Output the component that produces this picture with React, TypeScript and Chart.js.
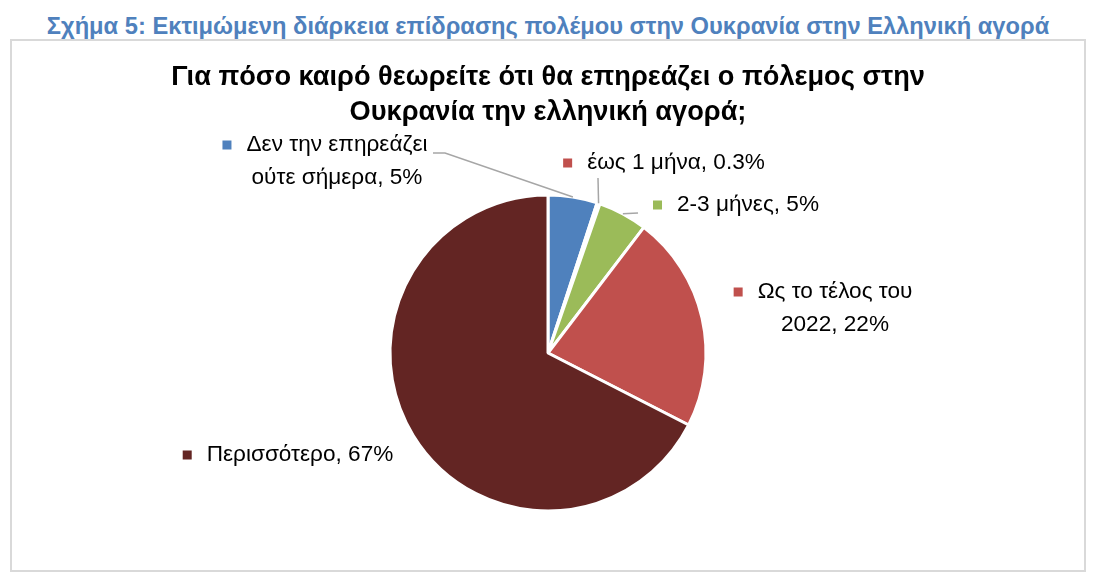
import React, { useEffect, useRef } from "react";
import { Chart, registerables } from "chart.js";

Chart.register(...registerables);

const PAGE_TITLE = "Σχήμα 5: Εκτιμώμενη διάρκεια επίδρασης πολέμου στην Ουκρανία στην Ελληνική αγορά";
const CHART_TITLE = ["Για πόσο καιρό θεωρείτε ότι θα επηρεάζει ο πόλεμος στην", "Ουκρανία την ελληνική αγορά;"];

const categories = [
  "Δεν την επηρεάζει ούτε σήμερα",
  "έως 1 μήνα",
  "2-3 μήνες",
  "Ως το τέλος του 2022",
  "Περισσότερο",
];
const values = [5, 0.3, 5, 22, 67];
const colors = ["#4F81BD", "#C0504D", "#9BBB59", "#C0504D", "#632523"];

// label placement relative to pie centre (px), wrap width, leader polyline
const labelLayout = [
  { dx: -211, dy: -208, wrap: 205, leader: [[-103, -200], [-115, -200]] },
  { dx: 128, dy: -190, wrap: 400, leader: [[50, -175]] },
  { dx: 200, dy: -148, wrap: 400, leader: [[90, -140]] },
  { dx: 287, dy: -61, wrap: 175, leader: [] },
  { dx: -248, dy: 102, wrap: 400, leader: [] },
];

const FONT = '"Liberation Sans", Arial, sans-serif';
const LABEL_SIZE = 22.6;
const LINE_GAP = 32.5;

function fmt(v: number) {
  return v < 1 ? v.toFixed(1) : String(Math.round(v));
}

function wrapText(ctx: CanvasRenderingContext2D, text: string, maxW: number) {
  const words = text.split(" ");
  const lines: string[] = [];
  let cur = "";
  for (const w of words) {
    const t = cur ? cur + " " + w : w;
    if (ctx.measureText(t).width > maxW && cur) {
      lines.push(cur);
      cur = w;
    } else cur = t;
  }
  if (cur) lines.push(cur);
  return lines;
}

const labelPlugin = {
  id: "sliceLabels",
  afterDatasetsDraw(chart: any) {
    const ctx: CanvasRenderingContext2D = chart.ctx;
    const meta = chart.getDatasetMeta(0);
    ctx.save();
    meta.data.forEach((arc: any, i: number) => {
      const p = arc.getProps(["x", "y", "startAngle", "endAngle", "outerRadius"], true);
      const mid = (p.startAngle + p.endAngle) / 2;
      const ax = p.x + Math.cos(mid) * p.outerRadius;
      const ay = p.y + Math.sin(mid) * p.outerRadius;
      const L = labelLayout[i];
      if (L.leader.length) {
        ctx.beginPath();
        ctx.moveTo(ax, ay);
        L.leader.forEach(([dx, dy]) => ctx.lineTo(p.x + dx, p.y + dy));
        ctx.strokeStyle = "#A6A6A6";
        ctx.lineWidth = 1.5;
        ctx.stroke();
      }
      ctx.font = `${LABEL_SIZE}px ${FONT}`;
      ctx.textBaseline = "middle";
      ctx.textAlign = "center";
      ctx.fillStyle = "#000000";
      const text = `${categories[i]}, ${fmt(values[i])}%`;
      const lines = wrapText(ctx, text, L.wrap);
      const cx = p.x + L.dx;
      const cy = p.y + L.dy;
      lines.forEach((ln, k) => ctx.fillText(ln, cx, cy + k * LINE_GAP));
      const w0 = ctx.measureText(lines[0]).width;
      const size = 9;
      ctx.fillStyle = colors[i];
      ctx.fillRect(cx - w0 / 2 - 15 - size, cy - size / 2, size, size);
    });
    ctx.restore();
  },
};

export default function App() {
  const ref = useRef<HTMLCanvasElement>(null);
  useEffect(() => {
    if (!ref.current) return;
    const chart = new Chart(ref.current, {
      type: "pie",
      data: {
        labels: categories,
        datasets: [
          {
            data: values,
            backgroundColor: colors,
            borderColor: "#FFFFFF",
            borderWidth: 3,
          },
        ],
      },
      options: {
        animation: false,
        responsive: false,
        radius: 158,
        layout: { padding: { top: 0, bottom: 4, left: 0, right: 0 } },
        plugins: {
          legend: { display: false },
          tooltip: { enabled: false },
          title: {
            display: true,
            text: CHART_TITLE,
            color: "#000000",
            font: { family: FONT, size: 27.2, weight: "bold", lineHeight: 35 / 27.2 },
            padding: { top: 19, bottom: 10 },
          },
        },
      } as any,
      plugins: [labelPlugin],
    });
    return () => chart.destroy();
  }, []);

  return (
    <div style={{ position: "fixed", left: 0, top: 0, width: 1096, height: 584, background: "#fff" }}>
      <div
        style={{
          position: "absolute",
          left: 0,
          top: 12,
          width: 1096,
          textAlign: "center",
          fontFamily: FONT,
          fontWeight: "bold",
          fontSize: 23.7,
          color: "#4F81BD",
          lineHeight: "28px",
          whiteSpace: "nowrap",
        }}
      >
        {PAGE_TITLE}
      </div>
      <div
        style={{
          position: "absolute",
          left: 10,
          top: 39,
          width: 1076,
          height: 533,
          border: "2px solid #D9D9D9",
          boxSizing: "border-box",
        }}
      >
        <canvas ref={ref} width={1072} height={529} style={{ display: "block" }} />
      </div>
    </div>
  );
}
